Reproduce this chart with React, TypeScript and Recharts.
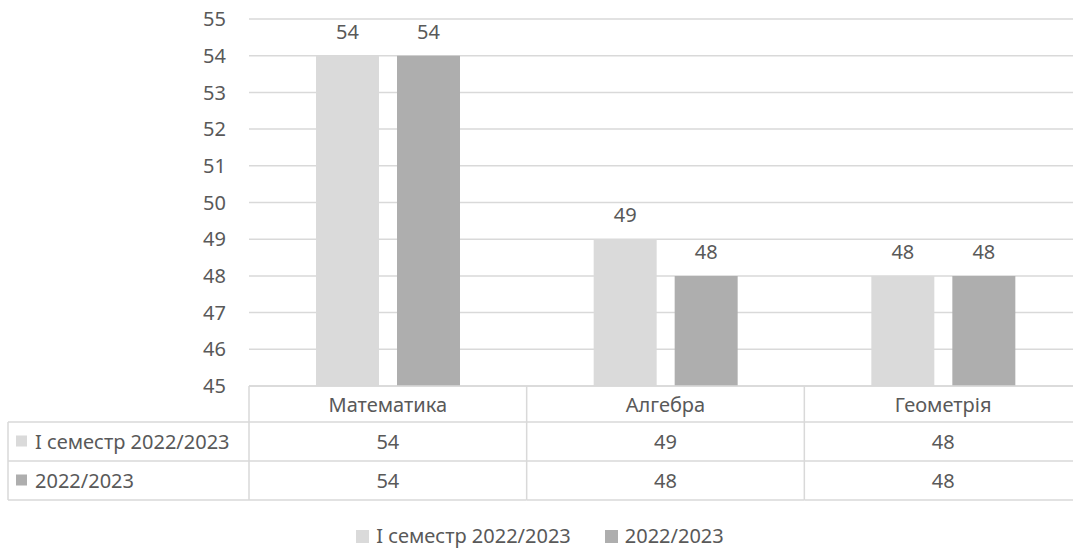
import React from 'react';
import { BarChart, Bar, XAxis, YAxis, CartesianGrid, LabelList } from 'recharts';

const categories = ['Математика', 'Алгебра', 'Геометрія'];
const seriesNames = ['I семестр 2022/2023', '2022/2023'];
const semester1 = [54, 49, 48];
const fullYear = [54, 48, 48];
const yTicks = [45, 46, 47, 48, 49, 50, 51, 52, 53, 54, 55];

const COLORS = ['#DADADA', '#AEAEAE'];
const TEXT = '#595959';
const LINE = '#D9D9D9';
const FONT = '"Noto Sans", sans-serif';
const FS = 20;

const CHART_W = 1082;
const CHART_H = 502;
const Y_W = 249;
const BAND = (CHART_W - Y_W) / categories.length;
const ROW_H = [36, 39, 39];
const TABLE_LEFT = 8;

const chartData = categories.map((name, i) => ({
  name,
  s1: semester1[i],
  s2: fullYear[i],
}));

function TableTick(props: any) {
  const { x, y, payload, index } = props;
  const left = x - BAND / 2;
  const right = x + BAND / 2;
  const r1 = y + ROW_H[0];
  const r2 = r1 + ROW_H[1];
  const r3 = r2 + ROW_H[2];
  const values = [semester1[index], fullYear[index]];
  return (
    <g>
      <line x1={left} y1={y} x2={left} y2={r3} stroke={LINE} strokeWidth={1.5} />
      <line x1={left} y1={r1} x2={right} y2={r1} stroke={LINE} strokeWidth={1.5} />
      <line x1={left} y1={r2} x2={right} y2={r2} stroke={LINE} strokeWidth={1.5} />
      <line x1={left} y1={r3} x2={right} y2={r3} stroke={LINE} strokeWidth={1.5} />
      <text x={x} y={y + ROW_H[0] / 2} textAnchor="middle" dominantBaseline="central" fill={TEXT} fontSize={FS} fontFamily={FONT}>
        {payload.value}
      </text>
      {values.map((v, k) => (
        <text key={k} x={x} y={(k === 0 ? r1 + ROW_H[1] / 2 : r2 + ROW_H[2] / 2)} textAnchor="middle" dominantBaseline="central" fill={TEXT} fontSize={FS} fontFamily={FONT}>
          {v}
        </text>
      ))}
      {index === 0 && (
        <g>
          <line x1={TABLE_LEFT} y1={r1} x2={left} y2={r1} stroke={LINE} strokeWidth={1.5} />
          <line x1={TABLE_LEFT} y1={r2} x2={left} y2={r2} stroke={LINE} strokeWidth={1.5} />
          <line x1={TABLE_LEFT} y1={r3} x2={left} y2={r3} stroke={LINE} strokeWidth={1.5} />
          <line x1={TABLE_LEFT} y1={r1} x2={TABLE_LEFT} y2={r3} stroke={LINE} strokeWidth={1.5} />
          {seriesNames.map((s, k) => {
            const cy = k === 0 ? r1 + ROW_H[1] / 2 : r2 + ROW_H[2] / 2;
            return (
              <g key={s}>
                <rect x={TABLE_LEFT + 8} y={cy - 6} width={11} height={11} fill={COLORS[k]} />
                <text x={TABLE_LEFT + 27} y={cy} dominantBaseline="central" fill={TEXT} fontSize={FS} fontFamily={FONT}>
                  {s}
                </text>
              </g>
            );
          })}
        </g>
      )}
    </g>
  );
}

function LegendRow() {
  return (
    <div
      style={{
        position: 'absolute',
        top: 522,
        left: 0,
        width: 1080,
        display: 'flex',
        justifyContent: 'center',
        gap: 34,
        fontFamily: FONT,
        fontSize: FS,
        lineHeight: '28px',
        color: TEXT,
      }}
    >
      {seriesNames.map((s, k) => (
        <div key={s} style={{ display: 'flex', alignItems: 'center', gap: 7 }}>
          <span style={{ width: 13, height: 13, background: COLORS[k], display: 'inline-block' }} />
          <span>{s}</span>
        </div>
      ))}
    </div>
  );
}

export default function App() {
  return (
    <div style={{ position: 'absolute', left: 0, top: 0, width: 1073, height: 550, overflow: 'hidden', background: '#fff' }}>
      <BarChart
        width={CHART_W}
        height={CHART_H}
        data={chartData}
        margin={{ top: 19, right: 0, left: 0, bottom: 0 }}
        barCategoryGap={67}
        barGap={18}
      >
        <CartesianGrid vertical={false} stroke={LINE} strokeWidth={1.5} />
        <YAxis
          domain={[45, 55]}
          ticks={yTicks}
          interval={0}
          width={Y_W}
          axisLine={false}
          tickLine={false}
          tickMargin={17}
          tick={{ fill: TEXT, fontSize: FS, fontFamily: FONT }}
        />
        <XAxis
          dataKey="name"
          height={CHART_H - 19 - 367}
          axisLine={{ stroke: LINE, strokeWidth: 1.5 }}
          tickLine={false}
          tickSize={0}
          tickMargin={0}
          interval={0}
          tick={<TableTick />}
        />
        <Bar dataKey="s1" name={seriesNames[0]} fill={COLORS[0]} isAnimationActive={false}>
          <LabelList dataKey="s1" position="top" offset={17} fill={TEXT} fontSize={FS} fontFamily={FONT} />
        </Bar>
        <Bar dataKey="s2" name={seriesNames[1]} fill={COLORS[1]} isAnimationActive={false}>
          <LabelList dataKey="s2" position="top" offset={17} fill={TEXT} fontSize={FS} fontFamily={FONT} />
        </Bar>
      </BarChart>
      <LegendRow />
    </div>
  );
}
